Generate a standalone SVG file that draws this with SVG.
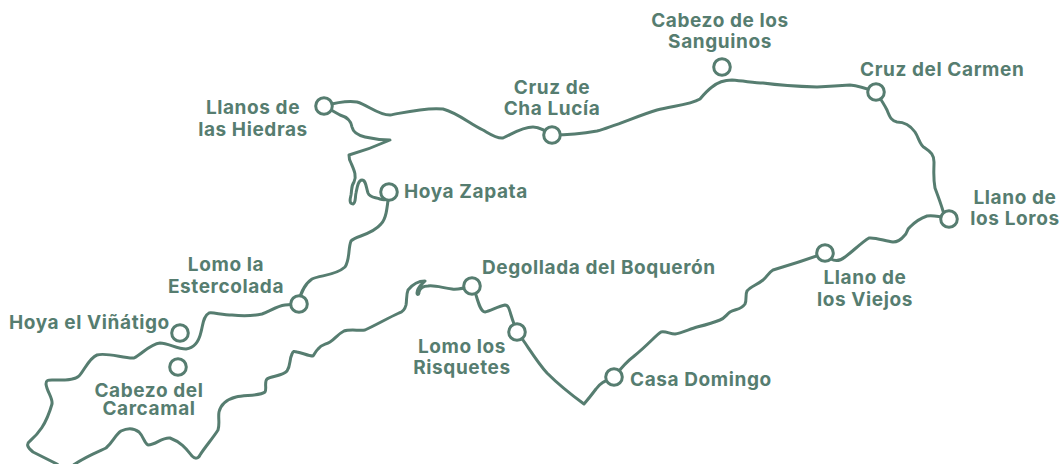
<svg xmlns="http://www.w3.org/2000/svg" width="1063" height="464" viewBox="0 0 1063 464">
<style>
.r{fill:none;stroke:#567d70;stroke-width:3;stroke-linecap:round;stroke-linejoin:round}
.n{fill:#fff;stroke:#567d70;stroke-width:3}
text{font-family:Inter,"Liberation Sans",Arial,sans-serif;font-weight:700;font-size:19px;letter-spacing:.6px;fill:#567d70}
.m{text-anchor:middle}
</style>
<rect width="1063" height="464" fill="#fff"/>
<g id="connectors">
<path class="r" d="M324 106Q345 100 357 102C368 105 378 115 390 115C402 113 425 107 443 109C458 113 470 124 483 130C490 134 497 139 503 138C512 134 522 127 533 127C540 127 546 131 552 135Q575 135 597 131C615 126 640 115 657 110C672 106 690 105 700 99C705 93 708 90 712 87C718 82 724 80 732 80C745 81 755 83 763 83Q785 86 817 87Q835 86 850 85Q860 86 876 92C880 98 884 104 887 110C890 118 892 121 897 122C905 122 910 125 915 132C919 138 920 146 925 148C931 152 934 155 934 162C934 172 933 176 935 188C938 196 941 204 943 211L949 219"/>
<path class="r" d="M949 219C942 217 934 215 927 216C921 218 914 223 910 227C906 230 908 233 904 236C900 241 897 242 893 242C885 241 875 237 869 238C862 242 852 252 845 257C840 261 836 262 831 259L825 253"/>
<path class="r" d="M825 253Q800 262 773 270C768 273 767 277 763 280C757 285 751 286 747 291C745 295 747 300 745 304C741 310 735 309 730 312C726 315 725 318 720 320C713 323 705 325 697 327C690 329 681 333 675 334C670 334 666 331 661 332C656 335 649 344 633 357Q626 362 614 377"/>
<path class="r" d="M614 377C605 381 600 383 596 389Q590 397 584 404Q562 388 547 373C538 363 530 350 523 340L517 332C515 326 513 322 511 315C509 308 508 305 505 305C499 306 490 311 485 312C481 312 479 305 476 295L472 286"/>
<path class="r" d="M472 286C465 288 458 290 452 289C443 288 435 285 428 286C423 286 420 288 419 292C419 295 417 295 417 293C417 288 421 285 425 281C418 281 412 285 408 290C406 295 407 300 406 305C405 309 403 312 399 313C388 318 376 325 365 330C360 331 350 329 344 331C338 334 335 339 330 342C325 345 322 344 318 349C315 352 314 355 313 356C308 356 303 353 297 352C294 351 293 351 292 354C289 360 291 365 287 371C283 376 271 376 267 379C264 382 267 389 265 392C260 396 245 395 236 397C228 399 221 404 219 412C218 418 220 424 218 430C213 438 205 447 200 455C198 459 195 459 192 456C187 450 183 443 170 438C162 437 156 445 148 445C144 443 144 437 139 432C134 428 127 428 121 431C115 435 113 442 106 448C95 453 85 457 75 464Q65 472 57 464Q45 458 33 452C27 447 26 444 30 441C38 434 46 425 52 404C53 398 47 392 46 384C46 380 48 380 52 380C60 380 74 381 79 376C84 371 89 358 97 355C107 352 125 359 134 358C142 354 150 344 160 343C168 343 177 349 186 349C194 348 199 341 201 332C203 325 203 316 209 313C213 312 222 315 232 315C242 316 252 316 262 314C270 311 277 306 285 305L298 304"/>
<path class="r" d="M298 304C300 296 303 285 312 279C320 275 335 276 345 267C350 260 348 248 351 241C355 236 372 235 381 224C386 219 387 210 389 192"/>
<path class="r" d="M389 192Q390 202 380 199C375 197 370 198 368 193C366 187 366 180 362 180C358 180 357 188 356 193C355 197 356 203 353 204C349 204 350 199 351 195C352 190 351 186 354 182C357 176 354 170 351 163C349 160 349 157 349 155Q370 149 390 140Q378 140 365 137C357 135 353 132 352 127C351 120 347 117 340 115L324 106"/>
</g>
<g id="llanos-hiedras"><circle class="n" cx="324" cy="106" r="8.3"/><text class="m"><tspan x="253" y="114">Llanos de</tspan><tspan x="253" y="136">las Hiedras</tspan></text></g>
<g id="cruz-cha-lucia"><circle class="n" cx="552" cy="135" r="8.3"/><text class="m"><tspan x="552" y="94">Cruz de</tspan><tspan x="552" y="115">Cha Lucía</tspan></text></g>
<g id="cabezo-sanguinos"><circle class="n" cx="722" cy="67" r="8.3"/><text class="m"><tspan x="720" y="27">Cabezo de los</tspan><tspan x="720" y="48">Sanguinos</tspan></text></g>
<g id="cruz-carmen"><circle class="n" cx="876" cy="92" r="8.3"/><text x="860" y="76">Cruz del Carmen</text></g>
<g id="llano-loros"><circle class="n" cx="949" cy="219" r="8.3"/><text class="m"><tspan x="1015" y="204">Llano de</tspan><tspan x="1015" y="225">los Loros</tspan></text></g>
<g id="llano-viejos"><circle class="n" cx="825" cy="253" r="8.3"/><text class="m"><tspan x="865" y="284">Llano de</tspan><tspan x="865" y="306">los Viejos</tspan></text></g>
<g id="casa-domingo"><circle class="n" cx="614" cy="377" r="8.3"/><text x="630" y="386">Casa Domingo</text></g>
<g id="lomo-risquetes"><circle class="n" cx="517" cy="332" r="8.3"/><text class="m"><tspan x="462" y="353">Lomo los</tspan><tspan x="462" y="374">Risquetes</tspan></text></g>
<g id="degollada-boqueron"><circle class="n" cx="472" cy="286" r="8.3"/><text x="482" y="274">Degollada del Boquerón</text></g>
<g id="hoya-zapata"><circle class="n" cx="389" cy="192" r="8.3"/><text x="404" y="198">Hoya Zapata</text></g>
<g id="lomo-estercolada"><circle class="n" cx="299" cy="304" r="8.3"/><text class="m"><tspan x="226" y="271">Lomo la</tspan><tspan x="226" y="293">Estercolada</tspan></text></g>
<g id="hoya-vinatigo"><circle class="n" cx="180" cy="333" r="8.3"/><text x="9" y="329">Hoya el Viñátigo</text></g>
<g id="cabezo-carcamal"><circle class="n" cx="178" cy="367" r="8.3"/><text class="m"><tspan x="149" y="397">Cabezo del</tspan><tspan x="149" y="415">Carcamal</tspan></text></g>
</svg>
